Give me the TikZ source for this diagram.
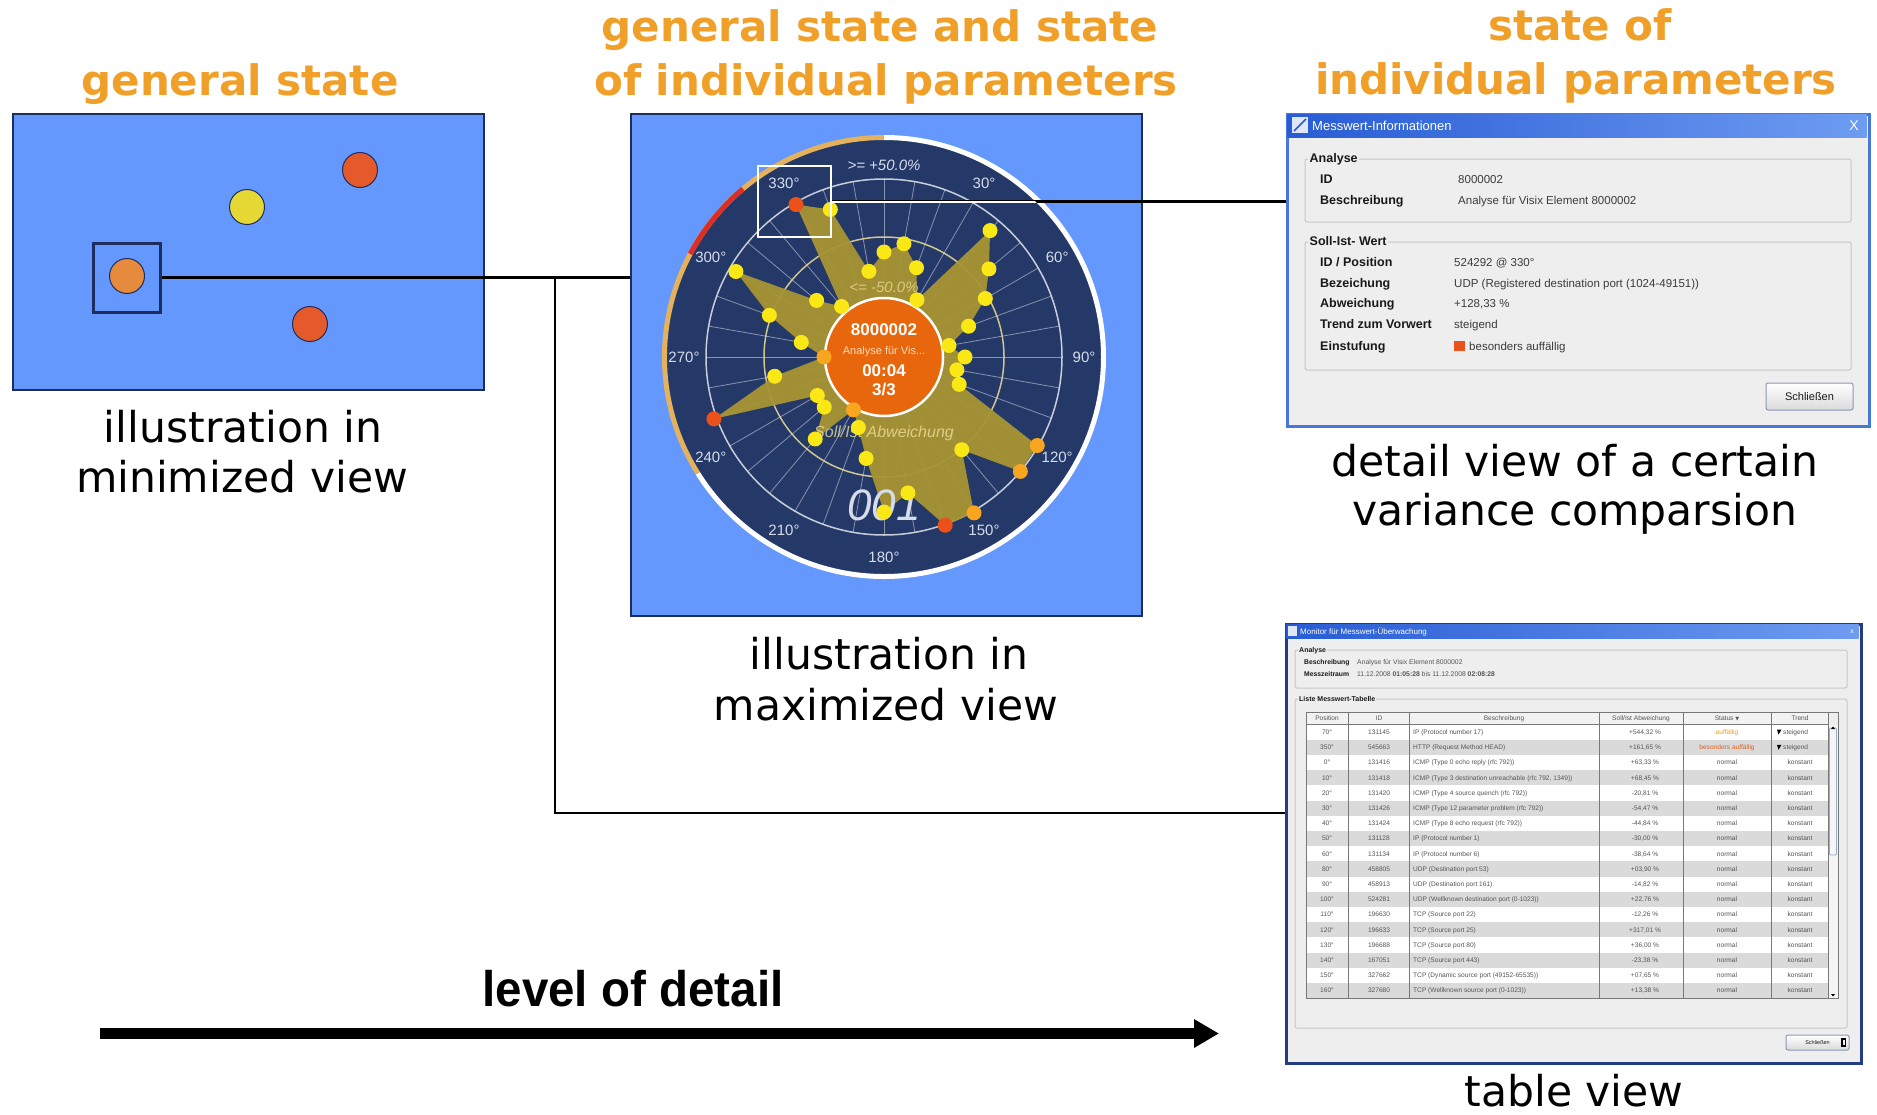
\documentclass[tikz,border=0pt]{standalone}
\usepackage{fontspec}
\setmainfont{DejaVu Sans}
\newfontfamily\uifont{Liberation Sans}
\newfontfamily\djvfont{DejaVu Sans}
\usetikzlibrary{arrows.meta,calc}

\definecolor{hdrorange}{RGB}{240,160,40}
\definecolor{panelblue}{RGB}{101,152,252}
\definecolor{panelborder}{RGB}{30,45,95}
\definecolor{radarnavy}{RGB}{37,57,105}
\definecolor{ringgold}{RGB}{228,178,92}
\definecolor{ringred}{RGB}{222,45,35}
\definecolor{polyfill}{RGB}{168,148,52}
\definecolor{creamline}{RGB}{236,222,150}
\definecolor{centerorange}{RGB}{232,102,12}
\definecolor{dotY}{RGB}{250,232,22}
\definecolor{dotO}{RGB}{248,166,32}
\definecolor{dotR}{RGB}{234,82,26}
\definecolor{deglbl}{RGB}{214,220,234}
\definecolor{lpred}{RGB}{228,90,42}
\definecolor{lpyellow}{RGB}{230,216,52}
\definecolor{lporange}{RGB}{230,138,62}
\definecolor{bodygrey}{RGB}{238,238,238}
\definecolor{grpline}{RGB}{200,200,200}
\definecolor{dlgblue}{RGB}{70,120,220}
\definecolor{tdlgblue}{RGB}{35,60,130}
\definecolor{tbA}{RGB}{40,92,212}
\definecolor{tbB}{RGB}{110,156,242}
\definecolor{labeltext}{RGB}{25,25,25}
\definecolor{valtext}{RGB}{60,60,60}
\definecolor{tabtext}{RGB}{85,85,85}
\definecolor{rowgrey}{RGB}{218,218,218}
\definecolor{stauff}{RGB}{232,160,30}
\definecolor{stbes}{RGB}{224,96,30}
\definecolor{btnborder}{RGB}{138,152,182}
\definecolor{tblline}{RGB}{120,120,120}
\definecolor{thumbline}{RGB}{150,172,208}

\newcommand{\hdrfont}{\fontsize{42}{50}\selectfont\bfseries}
\newcommand{\capfont}{\fontsize{42.5}{50}\selectfont}
\newcommand{\uif}[1]{\uifont\fontsize{#1}{#1}\selectfont}

\begin{document}
\begin{tikzpicture}[x=1pt,y=-1pt,
  hdr/.style={inner sep=0pt, anchor=base, text=hdrorange, font=\hdrfont},
  captxt/.style={inner sep=0pt, anchor=base, text=black, font=\capfont},
  conn/.style={draw=black, line width=2.5pt},
  panel/.style={draw=panelborder, fill=panelblue, line width=1.5pt, inner sep=0pt, anchor=north west},
  deg/.style={inner sep=0pt, text=deglbl, font={\uif{15}}},
  ctr/.style={inner sep=0pt, text=white, font={\uif{17}\bfseries}},
  dlbl/.style={inner sep=0pt, anchor=west, text height=9pt, text depth=0pt, text=labeltext, font={\uif{12.5}\bfseries}},
  dval/.style={inner sep=0pt, anchor=west, text height=8.3pt, text depth=0pt, text=valtext, font={\uif{11.5}}},
  grp/.style={draw=grpline, line width=1pt, rounded corners=2pt},
  glbl/.style={inner sep=1.5pt, anchor=west, fill=bodygrey, text height=9pt, text depth=0pt, text=labeltext, font={\uif{12.5}\bfseries}},
  tlbl/.style={inner sep=0pt, anchor=west, text height=4.8pt, text depth=0pt, text=labeltext, font={\uif{6.8}\bfseries}},
  tval/.style={inner sep=0pt, anchor=west, text height=4.8pt, text depth=0pt, text=tabtext, font={\uif{6.8}}},
  tcell/.style={inner sep=0pt, text height=4.7pt, text depth=0pt, text=tabtext, font={\uif{6.6}}},
  btn/.style={draw=btnborder, line width=1pt, top color=white, bottom color=rowgrey, rounded corners=2pt, inner sep=0pt, text=labeltext},
]
\fill[white] (0,0) rectangle (1877,1114);
\useasboundingbox (0,0) rectangle (1877,1114);

% ---------- headers ----------
\node[hdr] (h1) at (240,95) {general state};
\node[hdr] (h2a) at (880,41) {general state and state};
\node[hdr] (h2b) at (886,95) {of individual parameters};
\node[hdr] (h3a) at (1580,40) {state of};
\node[hdr] (h3b) at (1576,94) {individual parameters};

% ---------- left panel ----------
\node[panel, minimum width=471pt, minimum height=276pt] (lp) at (12,113) {};
\filldraw[fill=lpred, draw=panelborder, line width=1pt] (360,170) circle (17.5);
\filldraw[fill=lpyellow, draw=panelborder, line width=1pt] (247,207) circle (17.5);
\filldraw[fill=lporange, draw=panelborder, line width=1pt] (127,276) circle (17.5);
\filldraw[fill=lpred, draw=panelborder, line width=1pt] (310,324) circle (17.5);
\node[draw=panelborder, line width=3pt, minimum width=67pt, minimum height=69pt, inner sep=0pt] (sq) at (126.5,277.5) {};

% ---------- middle panel with radar ----------
\node[panel, minimum width=511pt, minimum height=502pt] (mp) at (630,113) {};
\begin{scope}[shift={(884,357)}]
  \fill[radarnavy] (0,0) circle (220);
  \draw[white, line width=5pt] (-90:219.5) arc[start angle=-90, end angle=148, radius=219.5];
  \draw[ringgold, line width=5pt] (148:219.5) arc[start angle=148, end angle=270, radius=219.5];
  \draw[ringred, line width=5pt] (208:219.5) arc[start angle=208, end angle=230, radius=219.5];
  \foreach \a in {0,10,...,350} \draw[white, opacity=0.45, line width=0.8pt] (\a:59) -- (\a:178);
  \draw[white, opacity=0.75, line width=1.5pt] (0,0) circle (178);
  \draw[creamline, opacity=0.85, line width=1.5pt] (0,0) circle (120);
  \fill[polyfill, opacity=0.95] (-90:105)
    \foreach \a/\r in {-80/115,-70/95,-60/66,-50/165,-40/137,-30/117,-20/90,-10/66,0/81,10/74,20/80,30/177,40/178,50/121,60/180,70/179,80/138,90/155,100/103,110/75,120/61,130/107,140/78,150/77,160/181,170/111,180/60,190/84,200/122,210/171,220/88,230/66,240/176,250/157,260/87} { -- (\a:\r) } -- cycle;
  \fill[centerorange] (0,0) circle (58);
  \draw[white, line width=2.5pt] (0,0) circle (59);
  \node[inner sep=0pt, text=creamline, opacity=0.8, font={\uif{16}\itshape}] (sollist) at (0,76) {Soll/Ist Abweichung};
  \node[inner sep=0pt, text=deglbl, font={\uif{44}\itshape}] (num) at (0,148) {001};
  \node[inner sep=0pt, text=creamline, opacity=0.75, font={\uif{15}\itshape}] (lowlim) at (0,-70) {<= -50.0\%};
  \node[inner sep=0pt, text=deglbl, font={\uif{15}\itshape}] (uplim) at (0,-192) {>= +50.0\%};
  \foreach \a/\r/\c in {-90/105/dotY,-80/115/dotY,-70/95/dotY,-60/66/dotY,-50/165/dotY,-40/137/dotY,-30/117/dotY,-20/90/dotY,-10/66/dotY,0/81/dotY,10/74/dotY,20/80/dotY,30/177/dotO,40/178/dotO,50/121/dotY,60/180/dotO,70/179/dotR,80/138/dotY,90/155/dotY,100/103/dotY,110/75/dotY,120/61/dotO,130/107/dotY,140/78/dotY,150/77/dotY,160/181/dotR,170/111/dotY,180/60/dotO,190/84/dotY,200/122/dotY,210/171/dotY,220/88/dotY,230/66/dotY,240/176/dotR,250/157/dotY,260/87/dotY}
    \fill[\c] (\a:\r) circle (7.5);
  \foreach \t in {30,60,...,330} \node[deg] (dg\t) at ({\t-90}:200) {\t°};
  \node[ctr] (cid) at (0,-27) {8000002};
  \node[inner sep=0pt, text={rgb,255:red,255;green,222;blue,196}, font={\uif{11}}] (cdesc) at (0,-5) {Analyse für Vis...};
  \node[ctr] (ctime) at (0,14) {00:04};
  \node[ctr] (ccount) at (0,33) {3/3};
\end{scope}
\node[draw=white, line width=2.5pt, minimum width=73pt, minimum height=71pt, inner sep=0pt] (hl) at (794.5,201.5) {};

% ---------- detail dialog ----------
\node[draw=dlgblue, line width=3pt, fill=bodygrey, minimum width=582pt, minimum height=312pt, anchor=north west, inner sep=0pt] (dd) at (1286,113) {};
\shade[left color=tbA, right color=tbB] (1287.5,114.5) rectangle (1866.5,137.5);
\fill[white, opacity=0.85] (1292,117) rectangle (1308,133);
\draw[tbA, line width=1.5pt] (1294,131) -- (1306,119);
\node[inner sep=0pt, anchor=west, text=white, font={\uif{13}}] (ddtitle) at (1312,126) {Messwert-Informationen};
\node[inner sep=1pt, text=white, font={\uif{14}}] (ddx) at (1854,126) {X};
\draw[grp] (1305,159) rectangle (1851,222);
\node[glbl] (g1) at (1308,158) {Analyse};
\draw[grp] (1305,242) rectangle (1851,370);
\node[glbl] (g2) at (1308,241) {Soll-Ist- Wert};
\node[dlbl] (l1) at (1320,179) {ID};
\node[dlbl] (l2) at (1320,200) {Beschreibung};
\node[dlbl] (l3) at (1320,262) {ID / Position};
\node[dlbl] (l4) at (1320,283) {Bezeichung};
\node[dlbl] (l5) at (1320,303) {Abweichung};
\node[dlbl] (l6) at (1320,324) {Trend zum Vorwert};
\node[dlbl] (l7) at (1320,346) {Einstufung};
\node[dval] (v1) at (1458,179) {8000002};
\node[dval] (v2) at (1458,200) {Analyse für Visix Element 8000002};
\node[dval] (v3) at (1454,262) {524292 @ 330°};
\node[dval] (v4) at (1454,283) {UDP (Registered destination port (1024-49151))};
\node[dval] (v5) at (1454,303) {+128,33 \%};
\node[dval] (v6) at (1454,324) {steigend};
\fill[dotR] (1454,341) rectangle (1465,351);
\node[dval] (v7) at (1469,346) {besonders auffällig};
\node[btn, minimum width=87pt, minimum height=27pt, font={\uif{11}}] (ddbtn) at (1809.5,396.5) {Schließen};

% ---------- table dialog ----------
\node[draw=tdlgblue, line width=3pt, fill=bodygrey, minimum width=575pt, minimum height=439pt, anchor=north west, inner sep=0pt] (tb) at (1285,623) {};
\shade[left color=tbA, right color=tbB] (1286.5,624.5) rectangle (1858.5,638.5);
\fill[white, opacity=0.85] (1288,626) rectangle (1297,636);
\node[inner sep=0pt, anchor=west, text=white, font={\uif{8}}] (tbtitle) at (1300,631.5) {Monitor für Messwert-Überwachung};
\node[inner sep=0pt, text=white, font={\uif{7}}] (tbx) at (1852,631.5) {x};
\draw[grp] (1295,650) rectangle (1847,688);
\node[glbl, inner sep=1pt, text height=5pt, font={\uif{7}\bfseries}] (tg1) at (1298,650) {Analyse};
\node[tlbl] (tl1) at (1304,662) {Beschreibung};
\node[tval] (tv1) at (1357,662) {Analyse für Visix Element 8000002};
\node[tlbl] (tl2) at (1304,674.5) {Messzeitraum};
\node[tval] (tv2) at (1357,674.5) {11.12.2008 \textbf{01:05:28} bis 11.12.2008 \textbf{02:08:28}};
\draw[grp] (1295,699) rectangle (1847,1028);
\node[glbl, inner sep=1pt, text height=5pt, font={\uif{7}\bfseries}] (tg2) at (1298,699) {Liste Messwert-Tabelle};
% header
\fill[white!95!black] (1306,712) rectangle (1828,724.5);
\node[tcell] (th1) at (1327,718.5) {Position};
\node[tcell] (th2) at (1379,718.5) {ID};
\node[tcell] (th3) at (1504,718.5) {Beschreibung};
\node[tcell] (th4) at (1641,718.5) {Soll/Ist Abweichung};
\node[tcell] (th5) at (1727,718.5) {Status {\djvfont\fontsize{5}{5}\selectfont ▼}};
\node[tcell] (th6) at (1800,718.5) {Trend};
% rows
\foreach \i/\p/\id/\d/\v/\s/\sc/\tr/\ic in {
  1/70°/131145/{IP (Protocol number 17)}/{+544,32 \%}/{auffällig}/stauff/steigend/1,
  2/350°/545663/{HTTP (Request Method HEAD)}/{+161,65 \%}/{besonders auffällig}/stbes/steigend/1,
  3/0°/131416/{ICMP (Type 0 echo reply (rfc 792))}/{+63,33 \%}/normal/tabtext/konstant/0,
  4/10°/131418/{ICMP (Type 3 destination unreachable (rfc 792, 1349))}/{+68,45 \%}/normal/tabtext/konstant/0,
  5/20°/131420/{ICMP (Type 4 source quench (rfc 792))}/{-20,81 \%}/normal/tabtext/konstant/0,
  6/30°/131426/{ICMP (Type 12 parameter problem (rfc 792))}/{-54,47 \%}/normal/tabtext/konstant/0,
  7/40°/131424/{ICMP (Type 8 echo request (rfc 792))}/{-44,84 \%}/normal/tabtext/konstant/0,
  8/50°/131128/{IP (Protocol number 1)}/{-30,00 \%}/normal/tabtext/konstant/0,
  9/60°/131134/{IP (Protocol number 6)}/{-38,64 \%}/normal/tabtext/konstant/0,
  10/80°/458805/{UDP (Destination port 53)}/{+03,90 \%}/normal/tabtext/konstant/0,
  11/90°/458913/{UDP (Destination port 161)}/{-14,82 \%}/normal/tabtext/konstant/0,
  12/100°/524281/{UDP (Wellknown destination port (0-1023))}/{+22,76 \%}/normal/tabtext/konstant/0,
  13/110°/196630/{TCP (Source port 22)}/{-12,26 \%}/normal/tabtext/konstant/0,
  14/120°/196633/{TCP (Source port 25)}/{+317,01 \%}/normal/tabtext/konstant/0,
  15/130°/196688/{TCP (Source port 80)}/{+36,00 \%}/normal/tabtext/konstant/0,
  16/140°/167051/{TCP (Source port 443)}/{-23,38 \%}/normal/tabtext/konstant/0,
  17/150°/327662/{TCP (Dynamic source port (49152-65535))}/{+07,65 \%}/normal/tabtext/konstant/0,
  18/160°/327680/{TCP (Wellknown source port (0-1023))}/{+13,38 \%}/normal/tabtext/konstant/0}{
  \pgfmathsetmacro{\yt}{724.5+(\i-1)*15.2}
  \pgfmathsetmacro{\yc}{\yt+7.6}
  \ifodd\i \def\rc{white}\else \def\rc{rowgrey}\fi
  \fill[\rc] (1306,\yt) rectangle (1828,\yt+15.2);
  \node[tcell] (tp\i) at (1327,\yc) {\p};
  \node[tcell] (ti\i) at (1379,\yc) {\id};
  \node[tcell, anchor=west] (td\i) at (1413,\yc) {\d};
  \node[tcell] (tv\i) at (1645,\yc) {\v};
  \node[tcell, text=\sc] (ts\i) at (1727,\yc) {\s};
  \ifnum\ic=1
    \fill[black] (1777,\yc-2.5) -- (1781.5,\yc-2.5) -- (1778.5,\yc+2.5) -- cycle;
    \node[tcell, anchor=west] (tt\i) at (1783,\yc) {\tr};
  \else
    \node[tcell] (tt\i) at (1800,\yc) {\tr};
  \fi
}
\foreach \cx in {1348.5,1409.5,1599,1683,1771}
  \draw[tblline, line width=0.8pt] (\cx,712) -- (\cx,998.1);
\draw[tblline, line width=0.6pt] (1306,724.5) -- (1828,724.5);
% scrollbar
\fill[white!96!black] (1828,724.5) rectangle (1838,998.1);
\draw[thumbline, line width=0.8pt, rounded corners=1pt] (1829.5,728) rectangle (1836.5,855);
\fill[black] (1831,729) -- (1835,729) -- (1833,726.5) -- cycle;
\fill[black] (1831,994) -- (1835,994) -- (1833,996.5) -- cycle;
\draw[tblline, line width=0.8pt] (1306,712) rectangle (1838,998.1);
\draw[tblline, line width=0.8pt] (1828,712) -- (1828,998.1);
\node[btn, minimum width=63pt, minimum height=15pt, font={\uif{5.5}}] (tbbtn) at (1817.5,1042.5) {Schließen};
\draw[black, line width=1.5pt] (1842,1039) rectangle (1845.5,1046);

% ---------- connectors ----------
\coordinate (vx) at (555,0);
\coordinate (hy) at (0,813);
\coordinate (j1) at (sq.east -| vx);
\coordinate (tin) at (tb.west |- hy);
\draw[conn] (sq.east) -- (sq.east -| mp.west);
\draw[conn] (j1) |- (tin);
\draw[conn] (hl.east) -- (hl.east -| dd.west);
\begin{scope}
  \clip (884,357) circle (217);
  \draw[white, line width=2pt] (hl.east) -- (hl.east -| dd.west);
\end{scope}

% ---------- captions ----------
\node[captxt] (c1a) at (243,442) {illustration in};
\node[captxt] (c1b) at (242,492) {minimized view};
\node[captxt] (c2a) at (889,669) {illustration in};
\node[captxt] (c2b) at (886,720) {maximized view};
\node[captxt] (c3a) at (1575,476) {detail view of a certain};
\node[captxt] (c3b) at (1575,525) {variance comparsion};
\node[captxt] (c4) at (1574,1106) {table view};

% ---------- level of detail arrow ----------
\coordinate (arS) at (100,1033.5);
\coordinate (arE) at (1219,1033.5);
\draw[line width=11pt, -{Triangle[length=25pt,width=27pt]}] (arS) -- (arE);
\node[inner sep=0pt, anchor=base, font={\uifont\fontsize{50}{50}\selectfont\bfseries}] (lod) at (633,1006) {\scalebox{0.95}[1]{level of detail}};
\end{tikzpicture}
\end{document}
